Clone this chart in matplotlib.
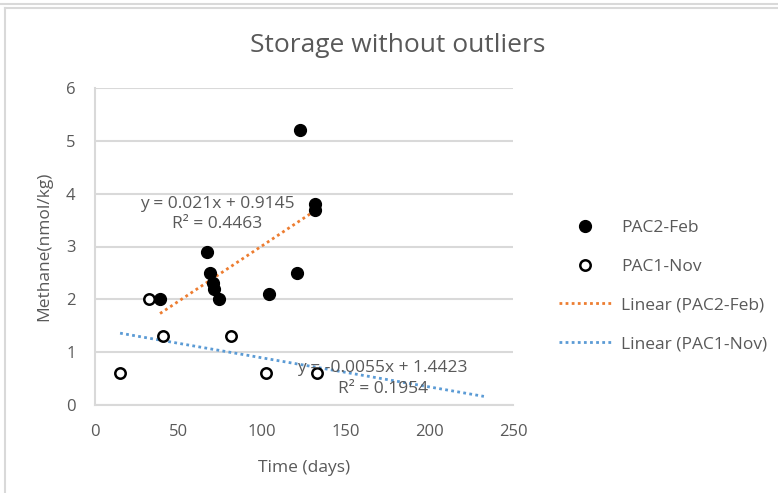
# Storage without outliers - scatter con líneas de tendencia

import numpy as np
import matplotlib.pyplot as plt
from matplotlib.lines import Line2D

# Datos

feb_x = [38.9, 66.8, 68.8, 70.4, 71.2, 74.3, 104.3, 121.0, 122.6, 131.6, 131.6]
feb_y = [2.0, 2.9, 2.5, 2.3, 2.2, 2.0, 2.1, 2.5, 5.2, 3.8, 3.7]

nov_x = [15.0, 32.5, 40.5, 81.2, 102.3, 132.6]
nov_y = [0.6, 2.0, 1.3, 1.3, 0.6, 0.6]

# coeficientes mostrados en el gráfico
feb_slope, feb_icpt, feb_r2 = 0.021, 0.9145, 0.4463
nov_slope, nov_icpt, nov_r2 = -0.0055, 1.4423, 0.1954
nov_forward = 100  # pronóstico hacia adelante de la tendencia

x_ticks = [0, 50, 100, 150, 200, 250]
y_ticks = [0, 1, 2, 3, 4, 5, 6]

txt = '#595959'
grid_c = '#d9d9d9'
orange = '#ED7D31'
blue = '#5B9BD5'

plt.rcParams['font.family'] = ['Open Sans', 'DejaVu Sans']

fig = plt.figure(figsize=(7.78, 4.93), dpi=100)

# bordes del recuadro exterior
W, H = 778, 493
def fx(p): return p / W
def fy(p): return 1 - p / H
fig.add_artist(Line2D([0, 1], [fy(3.5), fy(3.5)], color=grid_c, lw=1.5))
fig.add_artist(Line2D([fx(5), 1], [fy(8), fy(8)], color=grid_c, lw=1.5))
fig.add_artist(Line2D([fx(5), fx(5)], [fy(8), 0], color=grid_c, lw=1.5))

ax = fig.add_axes([95 / W, 1 - 405 / H, (513 - 95) / W, (405 - 88) / H])

# líneas de tendencia
fx1 = np.array([min(feb_x), max(feb_x)])
ax.plot(fx1, feb_slope * fx1 + feb_icpt, color=orange, lw=2, ls=(0, (1, 1.2)),
        label='Linear (PAC2-Feb)', zorder=2)
nx1 = np.array([min(nov_x), max(nov_x) + nov_forward])
ax.plot(nx1, nov_slope * nx1 + nov_icpt, color=blue, lw=2, ls=(0, (1, 1.2)),
        label='Linear (PAC1-Nov)', zorder=2)

ax.plot(feb_x, feb_y, 'o', color='black', ms=8.5, label='PAC2-Feb', zorder=3)
ax.plot(nov_x, nov_y, 'o', mfc='white', mec='black', mew=1.8, ms=7.5,
        label='PAC1-Nov', zorder=3)

ax.set_xlim(0, 250)
ax.set_ylim(0, 6)
ax.set_xticks(x_ticks)
ax.set_yticks(y_ticks)
ax.yaxis.grid(True, color=grid_c, lw=1.5)
ax.set_axisbelow(True)
for s in ['top', 'right']:
    ax.spines[s].set_visible(False)
for s in ['left', 'bottom']:
    ax.spines[s].set_color(grid_c)
    ax.spines[s].set_linewidth(1.5)
ax.tick_params(axis='x', length=0, labelsize=12, colors=txt, pad=14)
ax.tick_params(axis='y', length=0, labelsize=12, colors=txt, pad=14)

ax.set_xlabel('Time (days)', fontsize=12.5, color=txt, labelpad=14)
ax.set_ylabel('Methane(nmol/kg)', fontsize=12.5, color=txt, labelpad=10)
fig.text(398 / W, fy(45), 'Storage without outliers', fontsize=19, color=txt,
         ha='center', va='center')

# ecuaciones
ax.text(73, 3.62, 'y = 0.021x + 0.9145\nR² = 0.4463', fontsize=12.5, color=txt,
        ha='center', va='center', linespacing=1.35)
ax.text(172, 0.50, 'y = -0.0055x + 1.4423\nR² = 0.1954', fontsize=12.5, color=txt,
        ha='center', va='center', linespacing=1.35)

h, l = ax.get_legend_handles_labels()
order = [2, 3, 0, 1]
fig.legend([h[i] for i in order], [l[i] for i in order], loc='center left',
           bbox_to_anchor=(543 / W, fy(286)), frameon=False, fontsize=12.5,
           labelcolor=txt, handlelength=3.0, handletextpad=0.6, labelspacing=1.3)

fig.savefig('out.png', dpi=100)
